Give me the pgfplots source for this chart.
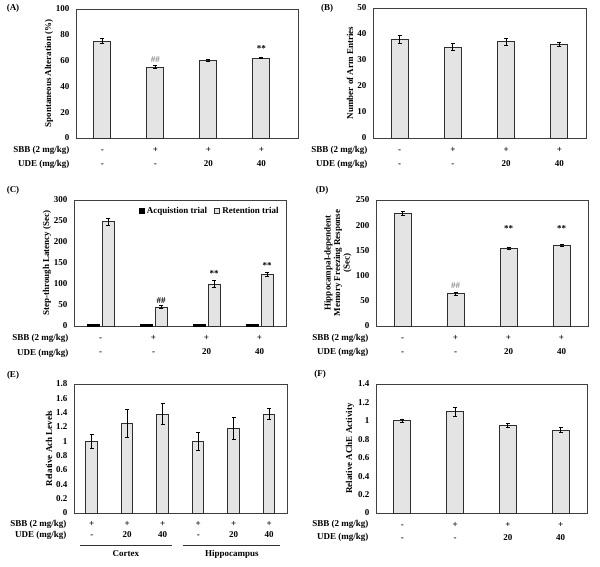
\documentclass[border=0pt]{standalone}
\usepackage{fontspec}
\setmainfont{Liberation Serif}
\usepackage{pgfplots}
\pgfplotsset{compat=1.18}
\definecolor{barfill}{HTML}{E4E4E4}
\definecolor{bardraw}{HTML}{2E2E2E}
\definecolor{hashgray}{HTML}{8C8C8C}
\newcommand\f{\fontsize{9}{10.5}\selectfont\bfseries}
\newcommand\tl[2]{\begin{tabular}{@{}c@{}}#1\\#2\end{tabular}}
\renewcommand\arraystretch{1.4}
\pgfplotsset{
 panel/.style={
  scale only axis, anchor=south west, clip=false,
  ybar, ymin=0, enlargelimits=false,
  axis line style={draw=black!75, line width=0.9pt},
  major tick length=0pt,
  /pgf/number format/assume math mode=true,
  yticklabel style={font=\f, xshift=-3pt},
  xticklabel style={font=\fontsize{9}{10}\selectfont\bfseries, inner sep=0pt, anchor=north, yshift=-4.7pt},
  every axis y label/.style={at={(rel axis cs:0,0.5)}, rotate=90, anchor=center, font=\f, align=center},
  bar width=17pt,
  xtick={0,1,2,3},
  xticklabels={\tl{-}{-},\tl{+}{-},\tl{+}{20},\tl{+}{40}},
 },
 bars/.style={fill=barfill, draw=bardraw, line width=1pt,
   error bars/.cd, y dir=both, y explicit,
   error bar style={black, line width=0.8pt},
   error mark options={rotate=90, mark size=2pt, black, line width=0.8pt}},
}
\tikzset{
 rowlab/.style={font=\f, anchor=base east},
 note/.style={font=\f},
}
\begin{document}
\begin{tikzpicture}
\useasboundingbox (0,0) rectangle (600pt,-567pt);
% panel letters
\node[font=\f] at (13pt,-8pt) {(A)};
\node[font=\f] at (327pt,-8pt) {(B)};
\node[font=\f] at (13pt,-190pt) {(C)};
\node[font=\f] at (322pt,-190pt) {(D)};
\node[font=\f] at (13pt,-375pt) {(E)};
\node[font=\f] at (320pt,-374pt) {(F)};

% (A)
\begin{axis}[panel, at={(76pt,-138pt)}, width=222pt, height=129pt,
  xmin=-0.5, xmax=3.69, ymax=100, ytick={0,20,...,100},
  ylabel={Spontaneous Alteration (\%)}, ylabel style={yshift=27pt}]
\addplot[bars] coordinates {(0,75) +- (0,2) (1,55) +- (0,1.2) (2,60) +- (0,0.8) (3,62) +- (0,0.6)};
\node[note, text=hashgray] at (axis cs:1,61) {\#\#};
\node[note] at (axis cs:3,69) {**};
\node[rowlab] at ([xshift=-3pt,yshift=-14.5pt]rel axis cs:0,0) {SBB (2 mg/kg)};
\node[rowlab] at ([xshift=-3pt,yshift=-28.5pt]rel axis cs:0,0) {UDE (mg/kg)};
\end{axis}

% (B)
\begin{axis}[panel, at={(373pt,-138pt)}, width=213pt, height=130pt,
  xmin=-0.5, xmax=3.5, ymax=50, ytick={0,10,...,50},
  ylabel={Number of Arm Entries}, ylabel style={yshift=23pt}]
\addplot[bars] coordinates {(0,38) +- (0,1.5) (1,35) +- (0,1.2) (2,37) +- (0,1.2) (3,36) +- (0,0.8)};
\node[rowlab] at ([xshift=-2pt,yshift=-14.5pt]rel axis cs:0,0) {SBB (2 mg/kg)};
\node[rowlab] at ([xshift=-2pt,yshift=-28.5pt]rel axis cs:0,0) {UDE (mg/kg)};
\end{axis}

% (C)
\begin{axis}[panel, at={(74pt,-326pt)}, width=212pt, height=126pt,
  xmin=-0.5, xmax=3.5, ymax=300, ytick={0,50,...,300},
  bar width=12pt, ybar=3pt,
  ylabel={Step-through Latency (Sec)}, ylabel style={yshift=27pt},
  legend style={at={(rel axis cs:0.99,0.913)}, anchor=east, draw=none, fill=none,
    font=\f, legend columns=2, /tikz/every even column/.append style={column sep=5pt}},
  legend image code/.code={\draw[#1] (0pt,-2.6pt) rectangle (5.2pt,2.6pt);}]
\addplot[fill=black, draw=black, line width=0.5pt] coordinates {(0,4) (1,4) (2,4) (3,4)};
\addlegendentry{Acquistion trial}
\addplot[bars] coordinates {(0,248) +- (0,9) (1,45) +- (0,4) (2,100) +- (0,8) (3,123) +- (0,4)};
\addlegendentry{Retention trial}
\node[note, xshift=7.5pt] at (axis cs:1,60) {\#\#};
\node[note, xshift=7.5pt] at (axis cs:2,124) {**};
\node[note, xshift=7.5pt] at (axis cs:3,145) {**};
\node[rowlab] at ([xshift=-2pt,yshift=-14.5pt]rel axis cs:0,0) {SBB (2 mg/kg)};
\node[rowlab] at ([xshift=-2pt,yshift=-29pt]rel axis cs:0,0) {UDE (mg/kg)};
\end{axis}

% (D)
\begin{axis}[panel, at={(376pt,-326pt)}, width=212pt, height=126pt,
  xmin=-0.5, xmax=3.5, ymax=250, ytick={0,50,...,250},
  ylabel={Hippocampal-dependent\\Memory Freezing Response\\(Sec)},
  ylabel style={yshift=38pt, font=\fontsize{9}{9.5}\selectfont\bfseries}]
\addplot[bars] coordinates {(0,224) +- (0,4) (1,64) +- (0,3) (2,154) +- (0,2) (3,159) +- (0,2)};
\node[note, text=hashgray] at (axis cs:1,81) {\#\#};
\node[note] at (axis cs:2,194) {**};
\node[note] at (axis cs:3,194) {**};
\node[rowlab] at ([xshift=-4pt,yshift=-14pt]rel axis cs:0,0) {SBB (2 mg/kg)};
\node[rowlab] at ([xshift=-4pt,yshift=-28pt]rel axis cs:0,0) {UDE (mg/kg)};
\end{axis}

% (E)
\begin{axis}[panel, at={(74pt,-513pt)}, width=213pt, height=129pt,
  xmin=-0.5, xmax=5.5, ymax=1.8, ytick={0,0.2,...,1.8},
  bar width=11.5pt,
  xtick={0,1,2,3,4,5},
  xticklabels={\tl{+}{-},\tl{+}{20},\tl{+}{40},\tl{+}{-},\tl{+}{20},\tl{+}{40}},
  xticklabel style={font=\fontsize{9}{7.86}\selectfont\bfseries, yshift=-1.1pt},
  ylabel={Relative Ach Levels}, ylabel style={yshift=25pt}]
\addplot[bars] coordinates {(0,1.0) +- (0,0.1) (1,1.25) +- (0,0.2) (2,1.38) +- (0,0.15)
  (3,1.0) +- (0,0.12) (4,1.18) +- (0,0.15) (5,1.38) +- (0,0.08)};
\draw[black!80, line width=0.9pt] ([yshift=-32pt]axis cs:-0.33,0) -- ([yshift=-32pt]axis cs:2.26,0);
\draw[black!80, line width=0.9pt] ([yshift=-32pt]axis cs:2.57,0) -- ([yshift=-32pt]axis cs:5.30,0);
\node[font=\f, anchor=base] at ([yshift=-43pt]axis cs:0.96,0) {Cortex};
\node[font=\f, anchor=base] at ([yshift=-43pt]axis cs:3.95,0) {Hippocampus};
\node[rowlab] at ([xshift=-4pt,yshift=-13.5pt]rel axis cs:0,0) {SBB (2 mg/kg)};
\node[rowlab] at ([xshift=-4pt,yshift=-24.7pt]rel axis cs:0,0) {UDE (mg/kg)};
\end{axis}

% (F)
\begin{axis}[panel, at={(376pt,-513pt)}, width=211pt, height=129pt,
  xmin=-0.5, xmax=3.5, ymax=1.4, ytick={0,0.2,...,1.4},
  xticklabel style={font=\fontsize{9}{9.3}\selectfont\bfseries},
  ylabel={Relative AChE Activity}, ylabel style={yshift=26pt}]
\addplot[bars] coordinates {(0,1.0) +- (0,0.02) (1,1.1) +- (0,0.05) (2,0.95) +- (0,0.02) (3,0.9) +- (0,0.03)};
\node[rowlab] at ([xshift=-4pt,yshift=-13.5pt]rel axis cs:0,0) {SBB (2 mg/kg)};
\node[rowlab] at ([xshift=-4pt,yshift=-26.5pt]rel axis cs:0,0) {UDE (mg/kg)};
\end{axis}
\end{tikzpicture}
\end{document}
